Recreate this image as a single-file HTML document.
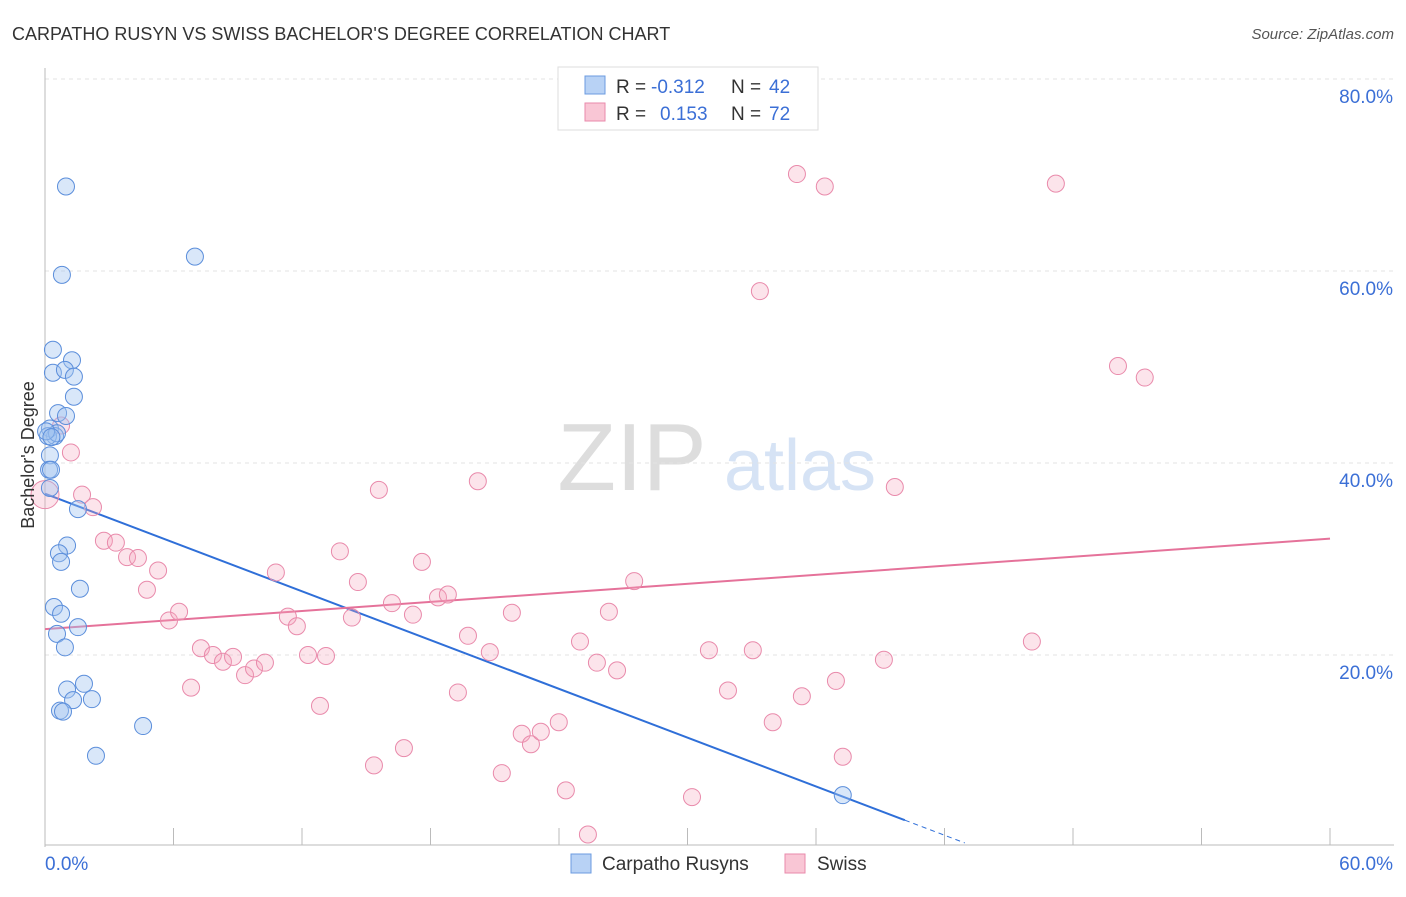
<!DOCTYPE html>
<html><head><meta charset="utf-8"><style>
body{margin:0;background:#fff;font-family:"Liberation Sans",sans-serif;}
svg text{font-family:"Liberation Sans",sans-serif;}
</style></head><body>
<svg id="chart" width="1406" height="892" xmlns="http://www.w3.org/2000/svg">
<text x="12" y="40" font-size="18" fill="#333">CARPATHO RUSYN VS SWISS BACHELOR'S DEGREE CORRELATION CHART</text>
<text x="1394" y="39" font-size="15" fill="#555" text-anchor="end" font-style="italic">Source: ZipAtlas.com</text>
<g>
<text x="632" y="490" font-size="96" fill="#ddd" text-anchor="middle" font-family="Liberation Serif, serif">ZIP</text>
<text x="800" y="490" font-size="72" fill="#d6e3f5" text-anchor="middle">atlas</text>
</g>
<g id="grid"></g><g id="axes"></g><g id="trend"></g><g id="pts"></g>
<text transform="translate(34,455) rotate(-90)" font-size="18" fill="#333" text-anchor="middle">Bachelor's Degree</text>
<g>
<rect x="558" y="67" width="260" height="63" fill="#fff" stroke="#ddd"/>
<rect x="585" y="76" width="20" height="18" fill="#b8d2f5" stroke="#6b9be0"/>
<rect x="585" y="103" width="20" height="18" fill="#f9c6d5" stroke="#e98aab"/>
<text x="616" y="93" font-size="19" fill="#333">R =</text>
<text x="651" y="93" font-size="19" fill="#3b6fd6">-0.312</text>
<text x="731" y="93" font-size="19" fill="#333">N =</text>
<text x="769" y="93" font-size="19" fill="#3b6fd6">42</text>
<text x="616" y="120" font-size="19" fill="#333">R =</text>
<text x="660" y="120" font-size="19" fill="#3b6fd6">0.153</text>
<text x="731" y="120" font-size="19" fill="#333">N =</text>
<text x="769" y="120" font-size="19" fill="#3b6fd6">72</text>
</g>
<g>
<rect x="571" y="854" width="20" height="19" fill="#b8d2f5" stroke="#6b9be0"/>
<text x="602" y="870" font-size="19" fill="#333">Carpatho Rusyns</text>
<rect x="785" y="854" width="20" height="19" fill="#f9c6d5" stroke="#e98aab"/>
<text x="817" y="870" font-size="19" fill="#333">Swiss</text>
</g>
</svg>
<script>
const blueX=[0.98,7.0,0.79,0.37,1.26,0.37,0.93,1.35,1.35,0.61,0.98,0.23,0.47,0.14,0.56,0.23,0.19,0.28,0.23,1.54,1.03,0.65,0.75,1.63,0.42,0.75,1.54,0.56,0.93,1.82,1.03,1.31,2.19,0.70,0.84,4.58,2.38,37.25,0.05,0.3];
const blueY=[68.8,61.5,59.6,51.8,50.7,49.4,49.7,49.0,46.9,45.2,44.9,43.6,42.8,42.8,43.1,40.8,39.3,39.3,37.4,35.2,31.4,30.6,29.7,26.9,25.0,24.3,22.9,22.2,20.8,17.0,16.4,15.3,15.4,14.2,14.1,12.6,9.5,5.4,43.3,42.7];
const pinkX=[0.0,0.75,1.21,1.73,2.24,2.75,3.31,3.83,4.34,4.76,5.28,5.79,6.26,6.82,7.28,7.84,8.31,8.78,9.34,9.76,10.27,10.78,11.34,11.76,12.28,12.84,13.12,13.77,14.33,14.61,15.36,15.59,16.20,16.76,17.18,17.60,18.35,18.81,19.28,19.75,20.21,20.77,21.33,21.80,22.26,22.69,23.15,23.99,24.32,24.98,25.35,25.77,26.33,26.71,27.51,30.21,31.0,31.89,33.05,33.38,33.98,35.11,35.34,36.41,36.93,37.25,39.17,39.68,46.08,47.2,50.1,51.35];
const pinkY=[36.7,43.9,41.1,36.7,35.4,31.9,31.7,30.2,30.1,26.8,28.8,23.6,24.5,16.6,20.7,20.0,19.3,19.8,17.9,18.6,19.2,28.6,24.0,23.0,20.0,14.7,19.9,30.8,23.9,27.6,8.5,37.2,25.4,10.3,24.2,29.7,26.0,26.3,16.1,22.0,38.1,20.3,7.7,24.4,11.8,10.7,12.0,13.0,5.9,21.4,1.3,19.2,24.5,18.4,27.7,5.2,20.5,16.3,20.5,57.9,13.0,70.1,15.7,68.8,17.3,9.4,19.5,37.5,21.4,69.1,50.1,48.9];
const blueTrend=[36.8,-0.847];
const pinkTrend=[22.7,0.157];
const yTicks=[20,40,60,80];
const xTickLabels=["0.0%","60.0%"];
const NS="http://www.w3.org/2000/svg";
const X=v=>45+v/60*1285, Y=v=>847-v*9.6;
function mk(p,tag,a){const e=document.createElementNS(NS,tag);for(const k in a)e.setAttribute(k,a[k]);document.getElementById(p).appendChild(e);return e;}
yTicks.forEach(t=>{
 const l=mk('grid','line',{x1:45,x2:1394,y1:Y(t),y2:Y(t),stroke:'#e3e3e3','stroke-dasharray':'4,4'});
 
 
 const tx=mk('grid','text',{x:1393,y:Y(t)+24,'font-size':19,fill:'#3b6fd6','text-anchor':'end'});
 tx.textContent=t.toFixed(1)+'%';
 
 
});
let ax=mk('axes','line',{x1:45,x2:45,y1:68,y2:847,stroke:'#bbb'});


ax=mk('axes','line',{x1:45,x2:1394,y1:845,y2:845,stroke:'#bbb'});


for(let i=0;i<=10;i++){const t=mk('axes','line',{x1:X(i*6),x2:X(i*6),y1:828,y2:845,stroke:'#bbb'});
 
 }
[[0,'start',45],[60,'end',1393]].forEach((d,i)=>{const t=mk('axes','text',{x:d[2],y:870,'font-size':19,fill:'#3b6fd6','text-anchor':d[1]});t.textContent=xTickLabels[i];
 
 });
function dot(x,y,r,fill,stroke,name){const c=mk('pts','circle',{cx:X(x),cy:Y(y),r:r,fill:fill,stroke:stroke,'stroke-width':1});
 
 }
pinkX.forEach((x,i)=>dot(x,pinkY[i],i===0?14:8.5,'rgba(244,164,190,0.3)','#e98aab','swiss-point'));
blueX.forEach((x,i)=>dot(x,blueY[i],8.5,'rgba(160,195,240,0.4)','#5b8edb','carpatho-point'));
const bEnd=40.15, bEnd2=42.95;
let l=mk('trend','line',{x1:X(0),y1:Y(blueTrend[0]),x2:X(bEnd),y2:Y(blueTrend[0]+blueTrend[1]*bEnd),stroke:'#2f6fd8','stroke-width':2});


l=mk('trend','line',{x1:X(bEnd),y1:Y(blueTrend[0]+blueTrend[1]*bEnd),x2:X(bEnd2),y2:Y(blueTrend[0]+blueTrend[1]*bEnd2),stroke:'#2f6fd8','stroke-width':1,'stroke-dasharray':'5,4'});


l=mk('trend','line',{x1:X(0),y1:Y(pinkTrend[0]),x2:X(60),y2:Y(pinkTrend[0]+pinkTrend[1]*60),stroke:'#e5729a','stroke-width':2});


</script>
</body></html>
